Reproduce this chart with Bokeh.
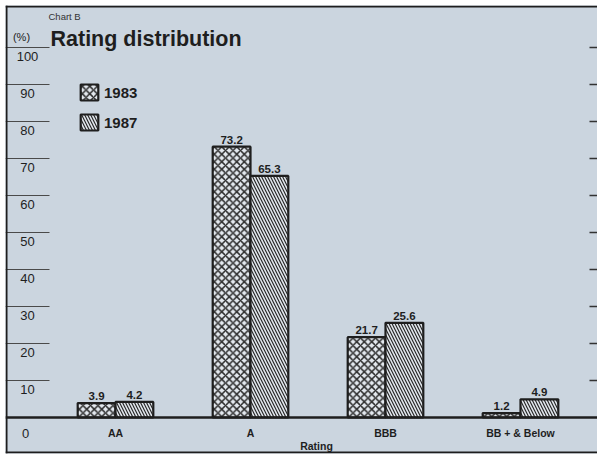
import numpy as np
from bokeh.plotting import figure
from bokeh.models import Range1d, Span, Legend, LegendItem
from bokeh.core.properties import value
from bokeh.embed import file_html
from bokeh.resources import INLINE

# ---- data -------------------------------------------------------------
categories = ["AA", "A", "BBB", "BB + & Below"]
share_1983 = [3.9, 73.2, 21.7, 1.2]
share_1987 = [4.2, 65.3, 25.6, 4.9]
y_ticks = [10, 20, 30, 40, 50, 60, 70, 80, 90, 100]

# ---- layout -----------------------------------------------------------
W, H = 597, 458
LEFT, TOP, RIGHT, BOTTOM = 5, 5, 597, 453       # chart box on the page
BASE_Y = 417                                     # page row of the zero line
FIRST_X = 115                                    # page column of first group
PX_PER_CAT = 135.0
PX_PER_PCT = 3.7

x_start = -(FIRST_X - LEFT) / PX_PER_CAT
x_end = x_start + (RIGHT - LEFT) / PX_PER_CAT
y_end = (BASE_Y - TOP) / PX_PER_PCT
y_start = -(BOTTOM - BASE_Y) / PX_PER_PCT


def px_x(px):
    """page column -> data x"""
    return x_start + (px - LEFT) / PX_PER_CAT


def px_y(py):
    """page row -> data y"""
    return (BASE_Y - py) / PX_PER_PCT


BG = "#cbd5df"
BAR_BG = "#e4e9ef"
INK = "#1e1e1e"
FONT = value("Liberation Sans")

p = figure(width=W, height=H, output_backend="svg", toolbar_location=None,
           x_axis_type=None, y_axis_type=None, title=None,
           x_range=Range1d(x_start, x_end), y_range=Range1d(y_start, y_end),
           min_border_left=LEFT, min_border_top=TOP,
           min_border_right=W - RIGHT, min_border_bottom=H - BOTTOM)
p.grid.visible = False
p.outline_line_color = None
p.background_fill_color = BG
p.border_fill_color = "white"

# ---- box border (left, top, bottom) -----------------------------------
p.add_layout(Span(location=px_x(LEFT + 1), dimension="height",
                  line_color=INK, line_width=2))
p.add_layout(Span(location=px_y(TOP + 1), dimension="width",
                  line_color=INK, line_width=2))
p.add_layout(Span(location=px_y(BOTTOM - 1), dimension="width",
                  line_color=INK, line_width=2))

# ---- value scale: short rules on the left, ticks on the right ---------
p.segment(x0=[x_start] * len(y_ticks), x1=[px_x(49)] * len(y_ticks),
          y0=y_ticks, y1=y_ticks, line_color="#4a4a4a", line_width=1)
p.segment(x0=[px_x(589)] * len(y_ticks), x1=[x_end] * len(y_ticks),
          y0=y_ticks, y1=y_ticks, line_color="#333333", line_width=1.5)
p.text(x=[px_x(27)] * len(y_ticks), y=y_ticks, text=[str(t) for t in y_ticks],
       text_align="center", text_baseline="middle", y_offset=9,
       text_font=FONT, text_font_size="13px", text_color=INK)
p.text(x=[px_x(25)], y=[0], text=["0"], text_align="center",
       text_baseline="middle", y_offset=16, text_font=FONT,
       text_font_size="13px", text_color=INK)

# ---- bars -------------------------------------------------------------
idx = np.arange(len(categories), dtype=float)
bar_w = 0.28
r83 = p.vbar(x=idx - bar_w / 2, top=share_1983, width=bar_w, bottom=0,
             fill_color=BAR_BG, line_color=INK, line_width=2.2,
             hatch_pattern="diagonal_cross", hatch_color="#2a2a2a",
             hatch_scale=7.5, hatch_weight=1.5)
r87 = p.vbar(x=idx + bar_w / 2, top=share_1987, width=bar_w, bottom=0,
             fill_color=BAR_BG, line_color=INK, line_width=2.2,
             hatch_pattern="left_diagonal_line", hatch_color="#2a2a2a",
             hatch_scale=6, hatch_weight=1.2)

# zero line
p.add_layout(Span(location=0, dimension="width", line_color=INK, line_width=2.5))

# value labels over each bar
p.text(x=idx - bar_w / 2, y=share_1983, text=[f"{v:.1f}" for v in share_1983],
       text_align="center", text_baseline="bottom", y_offset=-3,
       text_font=FONT, text_font_style="bold", text_font_size="11.5px",
       text_color=INK)
p.text(x=idx + bar_w / 2, y=share_1987, text=[f"{v:.1f}" for v in share_1987],
       text_align="center", text_baseline="bottom", y_offset=-3,
       text_font=FONT, text_font_style="bold", text_font_size="11.5px",
       text_color=INK)

# ---- category labels and axis name -----------------------------------
p.text(x=idx, y=[0] * len(categories), text=categories, text_align="center",
       text_baseline="middle", y_offset=15, text_font=FONT,
       text_font_style="bold", text_font_size="10.5px", text_color=INK)
p.text(x=[px_x(316)], y=[0], text=["Rating"], text_align="center",
       text_baseline="middle", y_offset=28, text_font=FONT,
       text_font_style="bold", text_font_size="10.5px", text_color=INK)

# ---- headings ---------------------------------------------------------
p.text(x=[px_x(48)], y=[px_y(16)], text=["Chart B"], text_align="left",
       text_baseline="alphabetic", text_font=FONT, text_font_size="9.5px",
       text_color="#333333")
p.text(x=[px_x(50)], y=[px_y(38)], text=["Rating distribution"],
       text_align="left", text_baseline="alphabetic", text_font=FONT,
       text_font_style="bold", text_font_size="21.5px", text_color=INK)
p.text(x=[px_x(21)], y=[px_y(36)], text=["(%)"], text_align="center",
       text_baseline="middle", text_font=FONT, text_font_size="11px",
       text_color=INK)

# ---- legend -----------------------------------------------------------
legend = Legend(items=[LegendItem(label="1983", renderers=[r83]),
                       LegendItem(label="1987", renderers=[r87])],
                location=(73, 321), orientation="vertical",
                glyph_width=22, glyph_height=20, label_height=20,
                spacing=10, padding=0, margin=0, label_standoff=4,
                label_text_font="Liberation Sans", label_text_font_style="bold",
                label_text_font_size="15px", label_text_color=INK,
                background_fill_alpha=0, border_line_color=None)
p.add_layout(legend)

open("out.html", "w").write(file_html(p, INLINE))
